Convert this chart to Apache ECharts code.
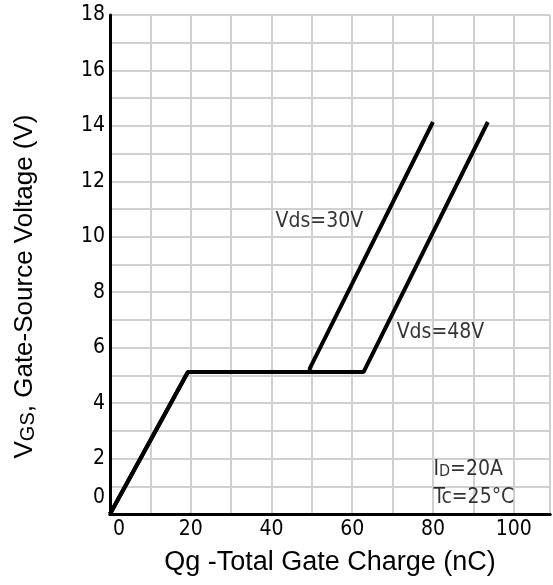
<!DOCTYPE html>
<html>
<head>
	<meta charset="utf-8">
	<title>Gate Charge</title>
	<style type="text/css">
		body{
			margin: 0px;
			background: #fff;
		}
		.chart{
			width: 553px;
			height: 585px;
		}
	</style>
	<script type="text/javascript" src="https://cdn.jsdelivr.net/npm/echarts@6/dist/echarts.min.js"></script>
</head>
<body>
	<div id="chart" class="chart"></div>
	<script type="text/javascript">
		// Vds=30V and Vds=48V curves, [Qg nC, Vgs V]
		var vds30 = [[0, 0], [19.3, 5.12], [49.5, 5.12], [49.5, 5.25], [80, 14.14]];
		var vds48 = [[0, 0], [19.3, 5.12], [62.8, 5.12], [93.6, 14.14]];
		var noteText = ['Vds=30V', 'Vds=48V', '{i|I}{d|D}{i|=20A}', 'Tc=25°C'];
		var notePos = [[40.9, 10.55], [70.9, 6.55], [80, 1.6], [80, 0.6]];

		var tickFont = '"Liberation Sans Narrow", "DejaVu Sans Condensed", sans-serif';
		var titleFont = '"Liberation Sans", Arial, sans-serif';

		var chart = echarts.init(document.getElementById('chart'));
		var notes = [];
		for(var i = 0; i < noteText.length; i++){
			notes.push({value: notePos[i], name: noteText[i]});
		}
		chart.setOption({
			animation: false,
			backgroundColor: '#fff',
			grid: {
				left: 110,
				right: 1,
				top: 15,
				bottom: 71,
				show: true,
				borderColor: '#555',
				borderWidth: 1,
				backgroundColor: '#fff'
			},
			xAxis: [{
				type: 'value',
				min: 0,
				max: 109,
				interval: 10,
				name: 'Qg -Total Gate Charge (nC)',
				nameLocation: 'middle',
				nameGap: 35,
				nameTextStyle: {
					fontFamily: titleFont,
					fontSize: 27,
					color: '#000'
				},
				axisLine: {
					onZero: false,
					lineStyle: {color: '#000', width: 3}
				},
				axisTick: {show: false},
				axisLabel: {
					margin: 5,
					fontFamily: tickFont,
					fontSize: 21,
					color: '#000',
					formatter: function(v){
						if(v === 0) return '{z|0}';
						return v % 20 === 0 ? v : '';
					},
					rich: {
						z: {fontFamily: tickFont, fontSize: 21, color: '#000', padding: [0, 0, 0, 18]}
					}
				},
				splitLine: {
					lineStyle: {color: '#d0d0d0', width: 2}
				}
			}, {
				type: 'value',
				position: 'top',
				min: 0,
				max: 109,
				axisLine: {lineStyle: {color: '#000', width: 3}},
				axisTick: {show: false},
				axisLabel: {show: false},
				splitLine: {show: false}
			}],
			yAxis: {
				type: 'value',
				min: 0,
				max: 18,
				interval: 1,
				name: '{a|V}{b|GS}{a|, Gate-Source Voltage (V)}',
				nameLocation: 'middle',
				nameGap: 72,
				nameTextStyle: {
					padding: [0, 44, 0, 0],
					rich: {
						a: {fontFamily: titleFont, fontSize: 26, color: '#000'},
						b: {fontFamily: titleFont, fontSize: 20, color: '#000', padding: [6, 0, 0, 0]}
					}
				},
				axisLine: {
					onZero: false,
					lineStyle: {color: '#000', width: 3}
				},
				axisTick: {show: false},
				axisLabel: {
					margin: 5,
					fontFamily: tickFont,
					fontSize: 21,
					color: '#000',
					formatter: function(v){
						if(v === 0) return '{z|0}';
						return v % 2 === 0 ? v : '';
					},
					rich: {
						z: {fontFamily: tickFont, fontSize: 21, color: '#000', padding: [0, 0, 32, 0]}
					}
				},
				splitLine: {
					lineStyle: {color: '#d0d0d0', width: 2}
				}
			},
			series: [{
				name: 'Vds=30V',
				type: 'line',
				data: vds30,
				symbol: 'none',
				lineStyle: {color: '#000', width: 4},
				z: 5
			}, {
				name: 'Vds=48V',
				type: 'line',
				data: vds48,
				symbol: 'none',
				lineStyle: {color: '#000', width: 4},
				z: 5
			}, {
				name: 'notes',
				type: 'scatter',
				data: notes,
				symbolSize: 1,
				itemStyle: {color: 'rgba(0,0,0,0)'},
				label: {
					show: true,
					position: 'right',
					distance: 0,
					formatter: function(p){ return p.name; },
					fontFamily: tickFont,
					fontSize: 21,
					color: '#000',
					rich: {
						i: {fontFamily: tickFont, fontSize: 21, color: '#000'},
						d: {fontFamily: tickFont, fontSize: 16, color: '#000', padding: [4, 0, 0, 0]}
					}
				},
				z: 6
			}]
		});
	</script>
</body>
</html>
